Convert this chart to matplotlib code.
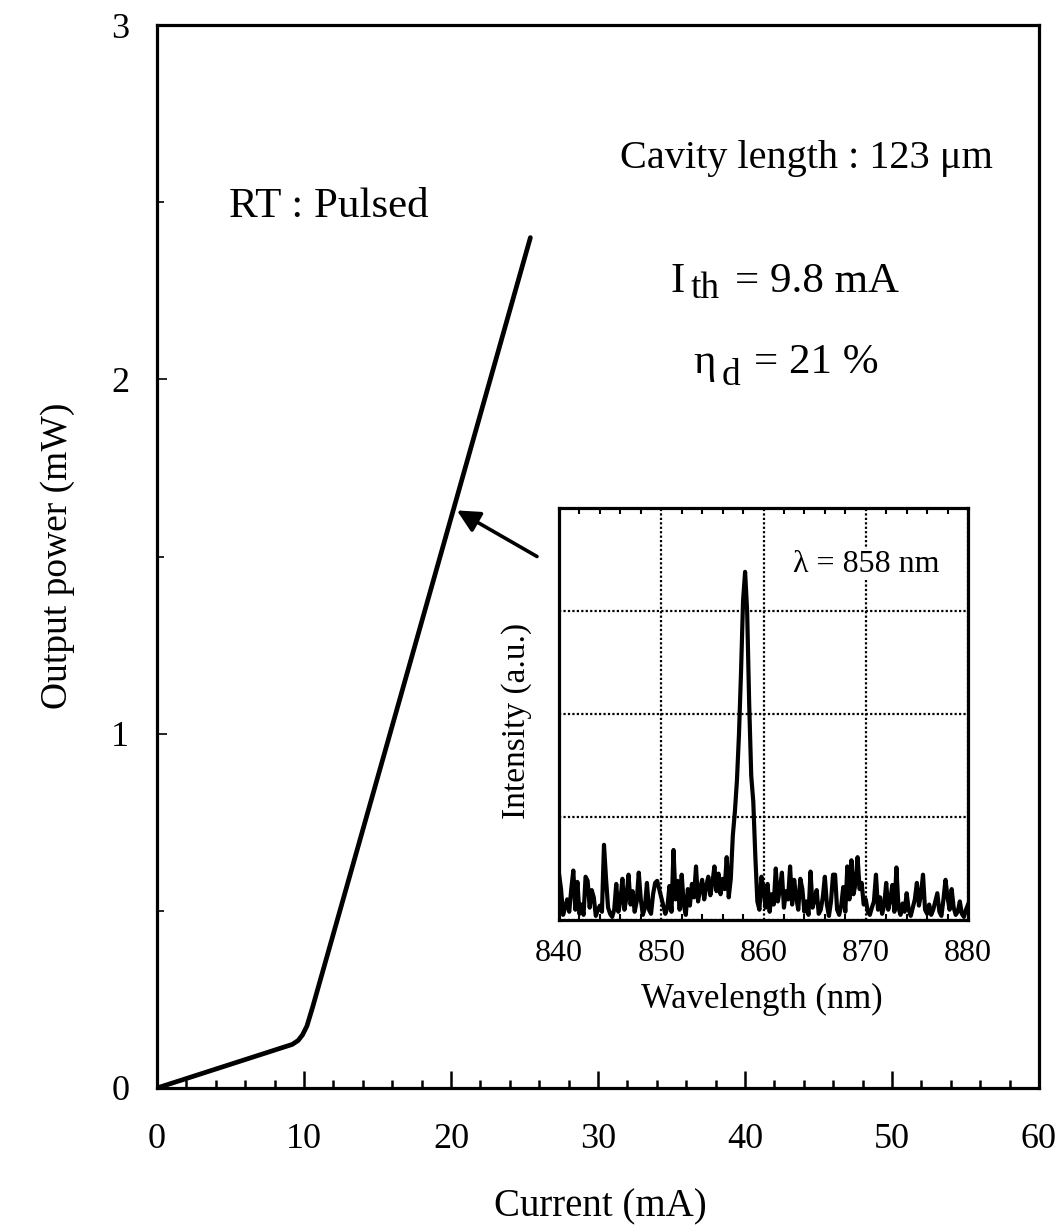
import numpy as np
import matplotlib
matplotlib.use("Agg")
import matplotlib.pyplot as plt
from matplotlib.ticker import MultipleLocator

plt.rcParams["font.family"] = ["Liberation Serif", "DejaVu Serif"]

# L-I curve (current in mA, output power in mW)
current = [0.0, 9.2, 9.6, 9.9, 10.2, 10.6, 25.4]
power = [0.0, 0.123, 0.134, 0.150, 0.175, 0.23, 2.40]

# inset lasing spectrum, 840..880 nm in 0.2 nm steps
wl_start, wl_stop = 840.0, 880.0
intensity = [
    0.45, 0.30, 0.05, 0.12, 0.20, 0.08, 0.30, 0.48, 0.10, 0.37,
    0.06, 0.15, 0.05, 0.42, 0.38, 0.12, 0.29, 0.22, 0.04, 0.10,
    0.14, 0.08, 0.73, 0.40, 0.12, 0.06, 0.03, 0.10, 0.35, 0.08,
    0.18, 0.40, 0.10, 0.22, 0.44, 0.15, 0.28, 0.08, 0.18, 0.46,
    0.20, 0.05, 0.12, 0.36, 0.10, 0.06, 0.25, 0.36, 0.38, 0.30,
    0.22, 0.14, 0.06, 0.12, 0.33, 0.08, 0.68, 0.20, 0.38, 0.10,
    0.44, 0.15, 0.05, 0.30, 0.14, 0.35, 0.22, 0.52, 0.18, 0.30,
    0.39, 0.20, 0.33, 0.42, 0.24, 0.36, 0.52, 0.28, 0.45, 0.25,
    0.40, 0.30, 0.61, 0.22, 0.40, 0.82, 1.05, 1.35, 1.80, 2.40,
    3.10, 3.38, 3.00, 2.10, 1.40, 1.15, 0.62, 0.18, 0.10, 0.42,
    0.30, 0.12, 0.35, 0.08, 0.25, 0.15, 0.50, 0.18, 0.30, 0.46,
    0.12, 0.28, 0.20, 0.52, 0.15, 0.39, 0.22, 0.10, 0.40, 0.30,
    0.08, 0.18, 0.05, 0.47, 0.12, 0.20, 0.29, 0.06, 0.10, 0.22,
    0.42, 0.15, 0.04, 0.18, 0.44, 0.44, 0.10, 0.05, 0.14, 0.32,
    0.08, 0.52, 0.20, 0.58, 0.25, 0.35, 0.61, 0.30, 0.36, 0.15,
    0.20, 0.08, 0.05, 0.12, 0.18, 0.44, 0.10, 0.22, 0.06, 0.14,
    0.36, 0.10, 0.20, 0.34, 0.08, 0.51, 0.12, 0.05, 0.16, 0.08,
    0.26, 0.10, 0.04, 0.12, 0.20, 0.36, 0.14, 0.25, 0.44, 0.10,
    0.06, 0.15, 0.05, 0.10, 0.18, 0.26, 0.08, 0.04, 0.20, 0.39,
    0.22, 0.10, 0.30, 0.12, 0.05, 0.08, 0.18, 0.06, 0.03, 0.10,
    0.15,
]
wavelength = np.linspace(wl_start, wl_stop, len(intensity))

W, H = 1060, 1232
fig = plt.figure(figsize=(W / 100, H / 100), dpi=100)

# ---- main L-I axes
ax = fig.add_axes([157 / W, 1 - 1088 / H, (1039 - 157) / W, (1088 - 25) / H])
ax.plot(current, power, color="black", lw=3.4, solid_joinstyle="round",
        solid_capstyle="round")
ax.set_xlim(0, 60)
ax.set_ylim(0, 3)
ax.xaxis.set_major_locator(MultipleLocator(10))
ax.xaxis.set_minor_locator(MultipleLocator(2))
ax.yaxis.set_major_locator(MultipleLocator(1))
ax.yaxis.set_minor_locator(MultipleLocator(0.5))
ax.tick_params(axis="x", which="major", direction="in", length=12, width=1.8,
               labelsize=26, pad=25)
ax.tick_params(axis="x", which="minor", direction="in", length=6, width=1.8)
ax.tick_params(axis="y", which="major", direction="in", length=7, width=1.2,
               labelsize=26, pad=20)
ax.tick_params(axis="y", which="minor", direction="in", length=5, width=1.2)
for s in ax.spines.values():
    s.set_linewidth(2.3)

ax.set_xlabel("Current (mA)", fontsize=28)
ax.xaxis.set_label_coords(0.503, -0.094)
ax.set_ylabel("Output power (mW)", fontsize=27)
ax.yaxis.set_label_coords(-0.093, 0.501)

ax.text(4.9, 2.458, "RT : Pulsed", fontsize=31, va="baseline", ha="left")
ax.text(44.15, 2.596, "Cavity length : 123 \u03bcm", fontsize=29, va="baseline", ha="center")
ax.text(34.9, 2.246, "I", fontsize=31, va="baseline", ha="left")
ax.text(36.3, 2.229, "th", fontsize=27, va="baseline", ha="left")
ax.text(39.3, 2.246, "= 9.8 mA", fontsize=31, va="baseline", ha="left")
ax.text(36.46, 2.018, "\u03b7", fontsize=31, va="baseline", ha="left")
ax.text(38.4, 1.984, "d", fontsize=27, va="baseline", ha="left")
ax.text(40.6, 2.018, "= 21 %", fontsize=31, va="baseline", ha="left")

ax.annotate("", xy=(20.4, 1.63), xytext=(25.85, 1.50),
            arrowprops=dict(arrowstyle="-|>", color="black", lw=2.6,
                            mutation_scale=34, shrinkA=0, shrinkB=0))

# ---- inset spectrum
ins = fig.add_axes([559 / W, 1 - 920 / H, (968 - 559) / W, (920 - 508) / H])
ins.plot(wavelength, intensity, color="black", lw=3.0)
ins.set_xlim(wl_start, wl_stop)
ins.set_ylim(0, 4)
ins.xaxis.set_major_locator(MultipleLocator(10))
ins.xaxis.set_minor_locator(MultipleLocator(2))
ins.set_yticks([0, 1, 2, 3, 4])
ins.set_yticklabels([])
ins.tick_params(axis="y", length=0)
ins.tick_params(axis="x", which="major", direction="in", length=0,
                labelsize=23, pad=14)
ins.tick_params(axis="x", which="minor", direction="in", length=4, width=1.5,
                top=True, bottom=True)
ins.grid(True, which="major", color="black", linestyle=(0, (1, 1)), lw=1.6)
for s in ins.spines.values():
    s.set_linewidth(2.3)
ins.set_xlabel("Wavelength (nm)", fontsize=25)
ins.xaxis.set_label_coords(0.496, -0.153)
ins.set_ylabel("Intensity (a.u.)", fontsize=24)
ins.yaxis.set_label_coords(-0.066, 0.483)
ins.text(862.9, 3.45, "\u03bb = 858 nm", fontsize=23, va="center", ha="left",
         bbox=dict(facecolor="white", edgecolor="none", pad=1))

fig.savefig("out.png", dpi=100)
